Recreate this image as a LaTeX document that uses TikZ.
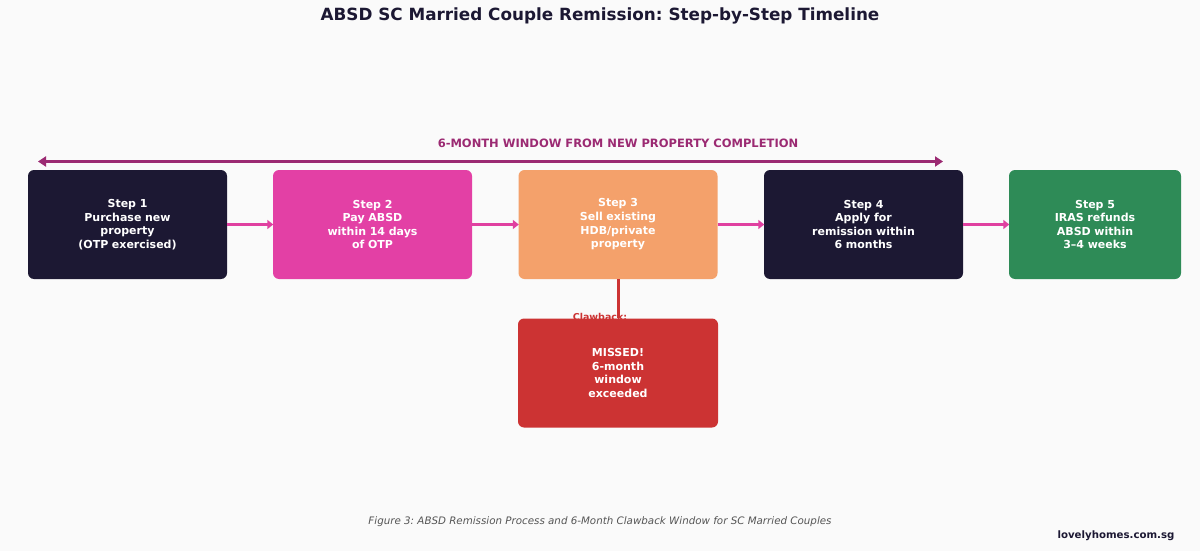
\documentclass[tikz,border=0pt]{standalone}
\usepackage{fontspec}
\setmainfont{DejaVu Sans}
\usetikzlibrary{arrows.meta}
\frenchspacing
\definecolor{bg}{HTML}{FAFAFA}
\definecolor{navy}{HTML}{1C1833}
\definecolor{pinkbox}{HTML}{E340A5}
\definecolor{orangebox}{HTML}{F4A16B}
\definecolor{greenbox}{HTML}{2E8B57}
\definecolor{redbox}{HTML}{CC3333}
\definecolor{pinkline}{HTML}{E040A0}
\definecolor{purpleline}{HTML}{9B2A72}
\definecolor{capgray}{HTML}{555555}
\tikzset{
  stepbox/.style={rounded corners=6pt, minimum width=199pt, minimum height=109pt,
    inner sep=0pt, text width=190pt, align=center, text=white,
    font=\fontsize{11}{13.6}\selectfont\bfseries},
  flow/.style={pinkline, line width=3pt, -{Stealth[length=6pt,width=9pt,inset=0pt]}, shorten >=-0.5pt},
}
\begin{document}
\begin{tikzpicture}[x=1pt,y=-1pt]
\useasboundingbox (0,0) rectangle (1200,551);
\fill[bg] (0,0) rectangle (1200,551);
\node[font=\fontsize{16.8}{20}\selectfont\bfseries, text=navy] (title) at (600,16) {ABSD SC Married Couple Remission: Step-by-Step Timeline};
\node[font=\fontsize{11.5}{14}\selectfont\bfseries, text=purpleline] (winlabel) at (618,143) {6-MONTH WINDOW FROM NEW PROPERTY COMPLETION};
\coordinate (wl) at (38,161.5);
\coordinate (wr) at (943,161.5);
\draw[purpleline, line width=3pt, {Stealth[length=8pt,width=10pt,inset=0pt]}-{Stealth[length=8pt,width=10pt,inset=0pt]}] (wl) -- (wr);

\node[stepbox, fill=navy] (s1) at (127.5,224.5) {Step 1\\Purchase new\\property\\(OTP exercised)};
\node[stepbox, fill=pinkbox] (s2) at (372.5,224.5) {Step 2\\Pay ABSD\\within 14 days\\of OTP};
\node[stepbox, fill=orangebox] (s3) at (618,224.5) {Step 3\\Sell existing\\HDB/private\\property};
\node[stepbox, fill=navy] (s4) at (863.5,224.5) {Step 4\\Apply for\\remission within\\6 months};
\node[stepbox, fill=greenbox, minimum width=172pt, text width=165pt] (s5) at (1095,224.5) {Step 5\\IRAS refunds\\ABSD within\\3–4 weeks};

\draw[flow] (s1) -- (s2);
\draw[flow] (s2) -- (s3);
\draw[flow] (s3) -- (s4);
\draw[flow] (s4) -- (s5);

\node[font=\fontsize{9.5}{11}\selectfont\bfseries, text=redbox, anchor=base] (claw) at (600,320.5) {Clawback:};
\node[stepbox, fill=redbox, minimum width=200pt] (miss) at (618,373) {MISSED!\\6-month\\window\\exceeded};
\draw[redbox, line width=3pt] (s3.south) -- (miss.north);

\node[font=\fontsize{10.3}{13}\selectfont\itshape, text=capgray] (cap) at (600,522) {Figure 3: ABSD Remission Process and 6-Month Clawback Window for SC Married Couples};
\node[font=\fontsize{10.2}{12}\selectfont\bfseries, text=navy, anchor=east] (brand) at (1178,536) {lovelyhomes.com.sg};
\end{tikzpicture}
\end{document}
